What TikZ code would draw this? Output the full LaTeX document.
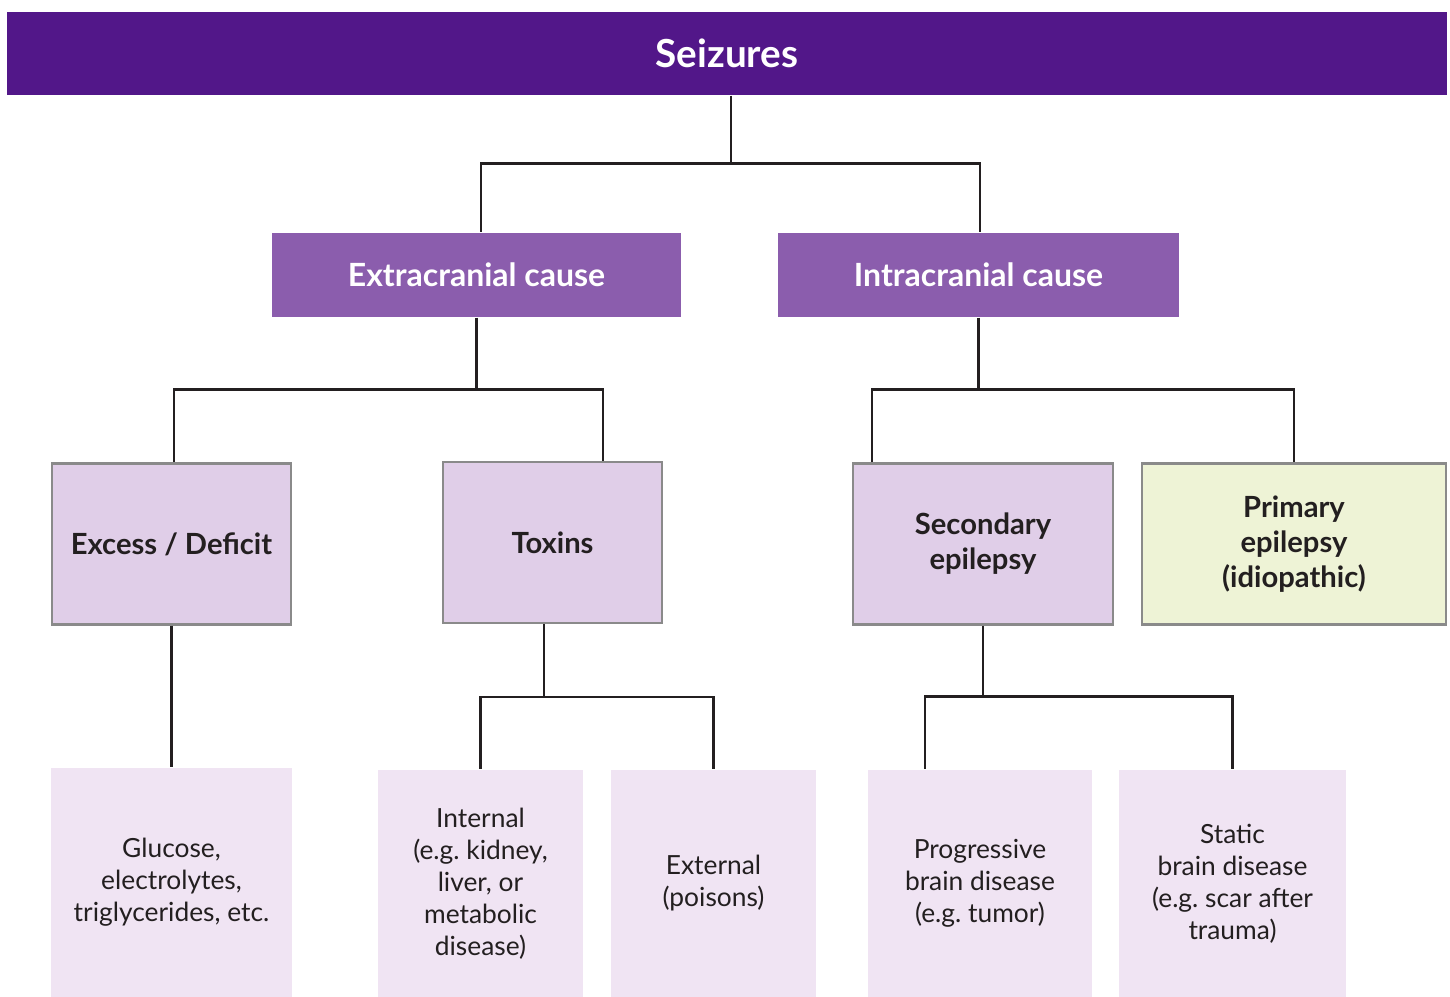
\documentclass[tikz,border=0pt]{standalone}
\usepackage{fontspec}
\setmainfont{Lato}
\usepackage{tikz}

\definecolor{seizpurple}{HTML}{521789}
\definecolor{causepurple}{HTML}{8B5DAD}
\definecolor{kindlilac}{HTML}{E0CEE8}
\definecolor{primgreen}{HTML}{EEF3D6}
\definecolor{leaflilac}{HTML}{F0E4F3}
\definecolor{boxgray}{HTML}{8A8A8A}
\definecolor{inkdark}{HTML}{231F20}

\begin{document}
\begin{tikzpicture}

% Page size of the original figure
\useasboundingbox (0,0) rectangle (14.5,-9.97);

% Define styles for the boxes of each level
\tikzstyle{rootbar} = [rectangle, fill=seizpurple, text=white, inner sep=0pt,
    font=\bfseries\fontsize{11}{13}\selectfont, minimum width=14.4cm, minimum height=0.83cm]
\tikzstyle{cause} = [rectangle, fill=causepurple, text=white, inner sep=0pt,
    font=\bfseries\fontsize{9.1}{11}\selectfont, minimum height=0.84cm]
\tikzstyle{kind} = [rectangle, fill=kindlilac, draw=boxgray, line width=0.6pt, text=inkdark,
    inner sep=0pt, align=center, font=\bfseries\fontsize{8.3}{10}\selectfont, minimum height=1.61cm]
\tikzstyle{leaf} = [rectangle, fill=leaflilac, text=inkdark, inner sep=0pt, align=center,
    font=\fontsize{7.5}{9.1}\selectfont, minimum height=2.27cm]

% Branches
\tikzstyle{branch} = [draw=inkdark, line width=0.75pt]

% Root
\node[rootbar] (seizures) at (7.27,-0.535) {Seizures};

% Level 1
\node[cause, minimum width=4.09cm] (extra) at (4.765,-2.75) {Extracranial cause};
\node[cause, minimum width=4.01cm] (intra) at (9.785,-2.75) {Intracranial cause};

% Level 2
\node[kind, minimum width=2.39cm] (excess) at (1.715,-5.44) {Excess / Deficit};
\node[kind, minimum width=2.19cm] (toxins) at (5.525,-5.425) {Toxins};
\node[kind, minimum width=2.60cm] (secondary) at (9.83,-5.44) {Secondary\\epilepsy};
\node[kind, minimum width=3.04cm, fill=primgreen] (primary) at (12.94,-5.44) {Primary\\epilepsy\\(idiopathic)};

% Level 3
\node[leaf, minimum width=2.41cm, minimum height=2.29cm] (glucose) at (1.715,-8.825) {Glucose,\\electrolytes,\\triglycerides, etc.};
\node[leaf, minimum width=2.05cm] (internal) at (4.805,-8.835) {Internal\\(e.g.\ kidney,\\liver, or\\metabolic\\disease)};
\node[leaf, minimum width=2.05cm] (external) at (7.135,-8.835) {External\\(poisons)};
\node[leaf, minimum width=2.24cm] (progressive) at (9.80,-8.835) {Progressive\\brain disease\\(e.g.\ tumor)};
\node[leaf, minimum width=2.27cm] (static) at (12.325,-8.835) {Static\\brain disease\\(e.g.\ scar after\\trauma)};

% Connectors
\draw[branch] ([xshift=0.4mm]seizures.south) -- ++(0,-0.68) -| ([xshift=0.45mm]extra.north);
\draw[branch] ([xshift=0.4mm]seizures.south) ++(0,-0.68) -| ([xshift=0.15mm]intra.north);

\draw[branch] (extra.south) -- ++(0,-0.72) -| ([xshift=0.25mm]excess.north);
\draw[branch] (extra.south) ++(0,-0.72) -| ([xshift=5.05mm]toxins.north);

\draw[branch] (intra.south) -- ++(0,-0.72) -| ([xshift=-11.1mm]secondary.north);
\draw[branch] (intra.south) ++(0,-0.72) -| (primary.north);

\draw[branch] (excess.south) -- (glucose.north);

\draw[branch] ([xshift=-0.85mm]toxins.south) -- ++(0,-0.73) -| (internal.north);
\draw[branch] ([xshift=-0.85mm]toxins.south) ++(0,-0.73) -| (external.north);

\draw[branch] (secondary.south) -- ++(0,-0.71) -| ([xshift=-5.5mm]progressive.north);
\draw[branch] (secondary.south) ++(0,-0.71) -| (static.north);

\end{tikzpicture}
\end{document}
